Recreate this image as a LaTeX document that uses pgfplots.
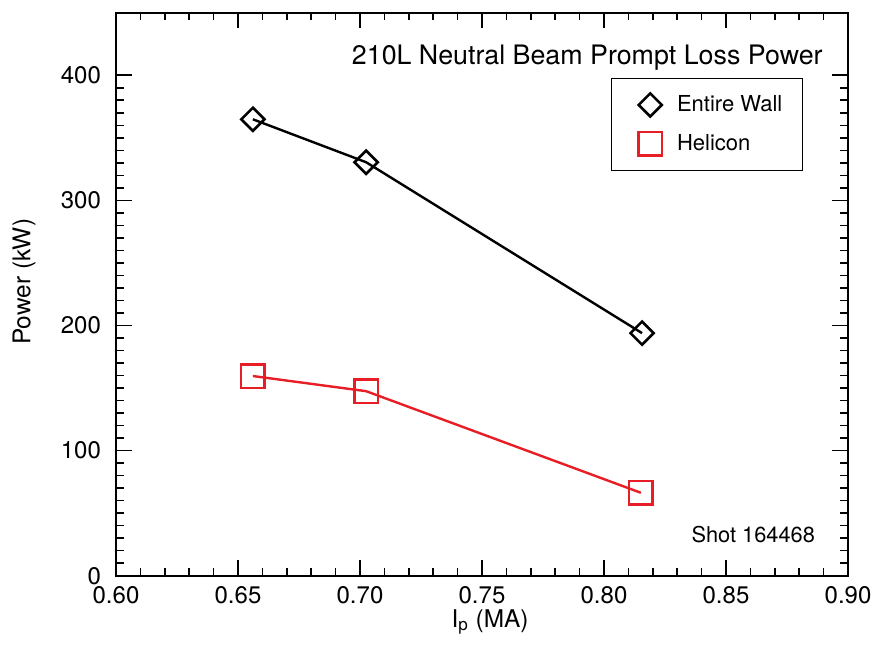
\documentclass[border=0pt]{standalone}
\usepackage{pgfplots}
\pgfplotsset{compat=1.18}
\usepackage{fontspec}
\setmainfont{TeX Gyre Heros}
\definecolor{hred}{RGB}{232,30,38}
\begin{document}
\begin{tikzpicture}
\begin{axis}[
    scale only axis, width=366pt, height=281.5pt,
    xmin=0.6, xmax=0.9, ymin=0, ymax=450,
    xtick={0.6,0.65,0.7,0.75,0.8,0.85,0.9},
    ytick={0,100,200,300,400},
    minor x tick num=4, minor y tick num=9,
    tick align=inside,
    major tick length=7.8pt, minor tick length=3.8pt,
    axis line style={line width=1pt},
    every tick/.style={black, line width=0.8pt},
    /pgf/number format/assume math mode=true,
    tick label style={font=\fontsize{12}{14}\selectfont},
    x tick label style={yshift=-2pt, /pgf/number format/.cd, fixed, fixed zerofill, precision=2},
    y tick label style={xshift=-4pt},
    every axis x label/.style={at={(rel axis cs:0.511,-0.082)}, anchor=center, font=\fontsize{12.2}{14}\selectfont},
    every axis y label/.style={at={(rel axis cs:-0.1257,0.522)}, rotate=90, anchor=center, font=\fontsize{12.2}{14}\selectfont},
    xlabel={I\textsubscript{p} (MA)},
    ylabel={Power (kW)},
    % marks only in the legend, with some room in front of them
    legend image code/.code={\path (-3.5pt,0pt);
      \draw[mark repeat=2,mark phase=2,#1] plot coordinates {(0pt,0pt)(7.5pt,0pt)(15pt,0pt)};},
    legend style={at={(0.676,0.8845)}, anchor=north west, draw=black, line width=0.7pt,
      font=\fontsize{11}{13}\selectfont, inner xsep=8pt, inner ysep=6.5pt,
      row sep=6pt, column sep=5.5pt},
    legend cell align=left,
]
\addplot[black, line width=1.2pt, mark=square, mark size=4.1pt,
  mark options={rotate=45, line width=1.3pt}, forget plot]
  coordinates {(0.6561,364.8)(0.7025,330.5)(0.8156,193.9)};
\addplot[hred, line width=1.2pt, mark=square, mark size=5.9pt,
  mark options={line width=1.3pt}, forget plot]
  coordinates {(0.6561,159.6)(0.7025,147.5)(0.8151,66.3)};
\addlegendimage{only marks, black, mark=square, mark size=4.1pt, mark options={rotate=45, line width=1.3pt}}
\addlegendentry{Entire Wall}
\addlegendimage{only marks, hred, mark=square, mark size=5.9pt, mark options={line width=1.3pt}}
\addlegendentry{Helicon}
\node[anchor=base east, font=\fontsize{13.4}{15}\selectfont] at (rel axis cs:0.975,0.9076) {210L Neutral Beam Prompt Loss Power};
\node[anchor=base east, font=\fontsize{10.9}{12}\selectfont] at (rel axis cs:0.9645,0.0586) {Shot 164468};
\end{axis}
\path (-58pt,-34.65pt) rectangle (382.5pt,287.85pt);
\end{tikzpicture}
\end{document}
